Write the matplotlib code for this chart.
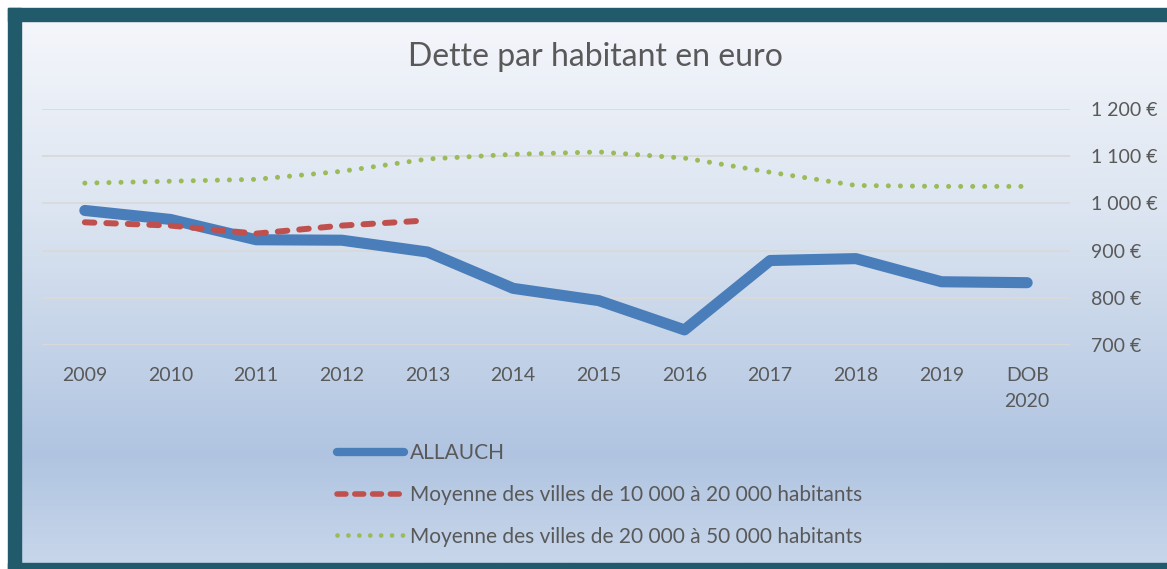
import numpy as np
import matplotlib.pyplot as plt
from matplotlib.colors import LinearSegmentedColormap
from matplotlib.patches import Rectangle
from matplotlib.lines import Line2D

plt.rcParams['font.family'] = ['Lato', 'DejaVu Sans']

# Data
years = ['2009', '2010', '2011', '2012', '2013', '2014', '2015', '2016',
         '2017', '2018', '2019', 'DOB\n2020']
allauch = [985, 966, 923, 922, 897, 820, 794, 732, 879, 883, 834, 832]
moy_10_20 = [960, 953, 936, 953, 964]
moy_20_50 = [1043, 1047, 1051, 1068, 1094, 1104, 1109, 1096, 1066, 1038, 1036, 1036]
y_ticks = [700, 800, 900, 1000, 1100, 1200]
y_labels = ['700 €', '800 €', '900 €', '1 000 €', '1 100 €', '1 200 €']
names = ['ALLAUCH',
         'Moyenne des villes de 10 000 à 20 000 habitants',
         'Moyenne des villes de 20 000 à 50 000 habitants']

text_col = '#595959'
blue, red, green = '#4a7ebb', '#c0504d', '#9bbb59'
W, H = 1167, 569

fig = plt.figure(figsize=(W / 100, H / 100), dpi=100)

# background: gradient panel with dark teal frame
bg = fig.add_axes([0, 0, 1, 1])
bg.set_xlim(0, W)
bg.set_ylim(H, 0)
bg.axis('off')
cmap = LinearSegmentedColormap.from_list('bg', [
    (0.0, '#f4f6fb'), (0.35, '#dce5f1'), (0.6, '#c4d3e8'),
    (0.8, '#b0c4e1'), (1.0, '#c7d6ea')])
grad = np.linspace(0, 1, 256).reshape(-1, 1)
bg.imshow(grad, cmap=cmap, aspect='auto', extent=[21, W, 563, 21], zorder=0)
frame = '#215a6a'
bg.add_patch(Rectangle((8, 8), W, 13, color=frame, zorder=1))
bg.add_patch(Rectangle((8, 8), 13, H, color=frame, zorder=1))
bg.add_patch(Rectangle((8, 563), W, 10, color=frame, zorder=1))

ax = fig.add_axes([42 / W, 1 - 345 / H, (1070 - 42) / W, (345 - 109) / H])
ax.set_facecolor('none')
x = np.arange(len(years))

ax.plot(x, allauch, color=blue, lw=8, solid_capstyle='round',
        solid_joinstyle='round', zorder=3)
ax.plot(x[:len(moy_10_20)], moy_10_20, color=red, lw=4.3,
        linestyle=(0, (1.6, 2.0)), dash_capstyle='round', zorder=4)
ax.plot(x, moy_20_50, color=green, lw=3.6,
        linestyle=(0, (0.01, 2.4)), dash_capstyle='round', zorder=4)

ax.set_xlim(-0.5, len(years) - 0.5)
ax.set_ylim(700, 1200)
ax.set_xticks(x)
ax.set_xticklabels(years, fontsize=14, color=text_col, linespacing=1.6)
ax.yaxis.tick_right()
ax.set_yticks(y_ticks)
ax.set_yticklabels(y_labels, fontsize=14, color=text_col)
ax.tick_params(length=0)
ax.tick_params(axis='y', pad=15)
ax.tick_params(axis='x', pad=16)
ax.grid(axis='y', color='#d9d9d9', lw=1.3)
ax.set_axisbelow(True)
for s in ax.spines.values():
    s.set_visible(False)

fig.text(595 / W, 1 - 57 / H, 'Dette par habitant en euro', fontsize=23,
         color=text_col, ha='center', va='center')

# legend keys are a bit thinner than the plotted lines
handles = [
    Line2D([], [], color=blue, lw=6, solid_capstyle='round'),
    Line2D([], [], color=red, lw=4, linestyle=(0, (1.6, 1.6)), dash_capstyle='round'),
    Line2D([], [], color=green, lw=3.4, linestyle=(0, (0.01, 2.3)), dash_capstyle='round'),
]
fig.legend(handles=handles, labels=names, loc='upper left',
           bbox_to_anchor=(337 / W, 1 - 443 / H), frameon=False,
           fontsize=15, labelcolor=text_col, handlelength=3.2,
           handletextpad=0.3, labelspacing=1.05, borderpad=0, borderaxespad=0)

fig.savefig('out.png', dpi=100)
